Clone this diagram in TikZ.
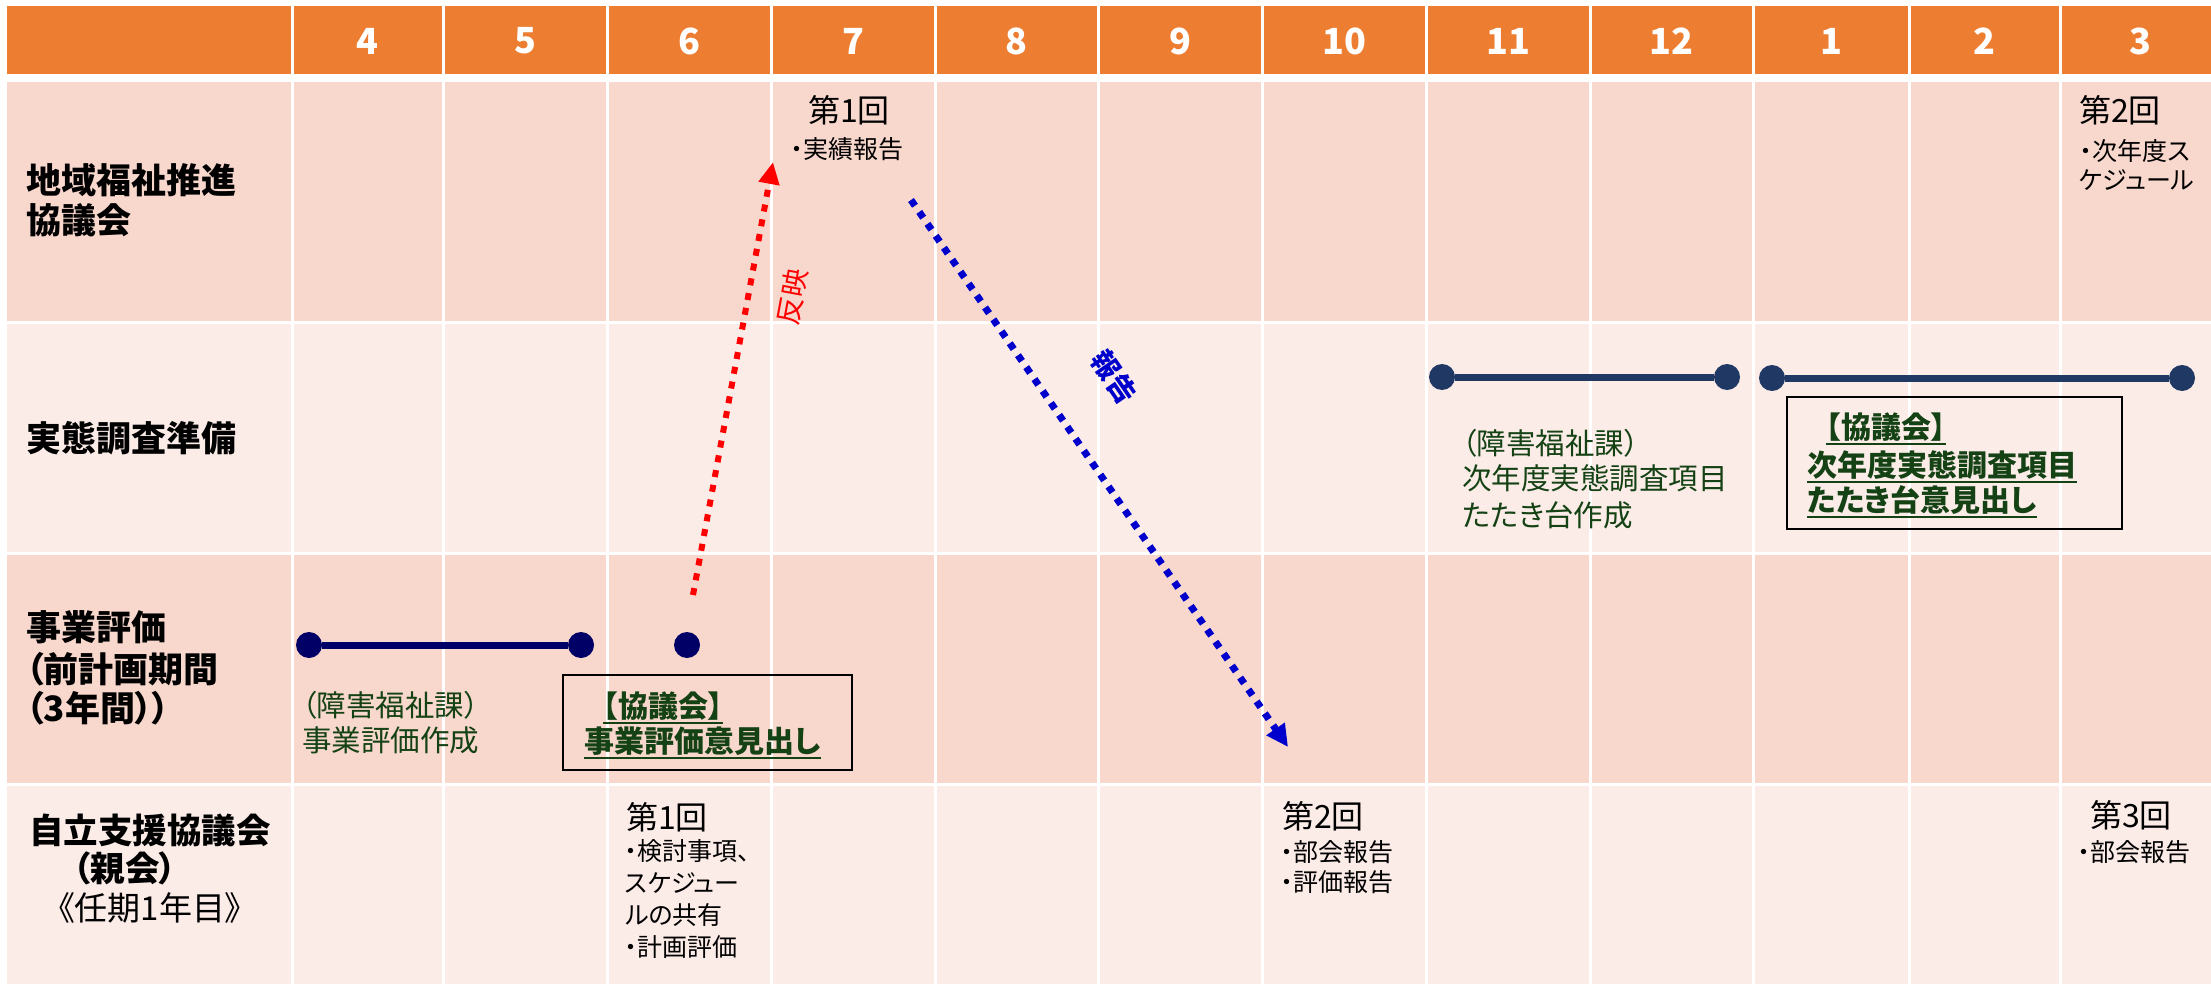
\documentclass[tikz,border=0pt]{standalone}
\usepackage{fontspec}
\setmainfont{Noto Sans CJK JP}[RawFeature=+palt]
\usetikzlibrary{arrows.meta}
\definecolor{hdrorange}{RGB}{237,125,49}
\definecolor{pinkA}{RGB}{248,215,205}
\definecolor{pinkB}{RGB}{251,236,232}
\definecolor{dgreen}{RGB}{20,66,20}
\definecolor{navyA}{RGB}{0,0,102}
\definecolor{navyB}{RGB}{32,56,100}
\definecolor{arrblue}{RGB}{0,0,204}
\begin{document}
\begin{tikzpicture}[x=1pt,y=-1pt,
  hdr/.style={font=\fontsize{36}{40}\selectfont\bfseries, text=white, inner sep=0pt},
  rowlbl/.style={font=\fontsize{35}{40}\selectfont\bfseries, anchor=west, inner sep=0pt},
  rowlblc/.style={font=\fontsize{34.5}{40}\selectfont\bfseries, inner sep=0pt},
  rowlblr/.style={font=\fontsize{33}{40}\selectfont, inner sep=0pt},
  kai/.style={font=\fontsize{32}{38}\selectfont, anchor=west, inner sep=0pt},
  itemtxt/.style={font=\fontsize{25}{30}\selectfont, anchor=west, inner sep=0pt},
  gtxt/.style={font=\fontsize{29.5}{36}\selectfont, text=dgreen, anchor=west, inner sep=0pt},
  gbox/.style={font=\fontsize{30}{36}\selectfont\bfseries, text=dgreen, anchor=west, inner sep=0pt,
    append after command={([yshift=-2.5pt]\tikzlastnode.south west) edge[draw=dgreen, line width=2pt] ([yshift=-2.5pt]\tikzlastnode.south east)}},
  frame/.style={draw=black, line width=2.5pt, inner sep=0pt},
  dotA/.style={circle, fill=navyA, inner sep=0pt, minimum size=26pt},
  dotB/.style={circle, fill=navyB, inner sep=0pt, minimum size=26pt},
  arrlbl/.style={font=\fontsize{28}{32}\selectfont, inner sep=0pt}
]
\useasboundingbox (0,0) rectangle (2211,984);
\fill[white] (0,0) rectangle (2211,984);
% table rows
\fill[hdrorange] (7,6) rectangle (2211,74);
\fill[pinkA] (7,82) rectangle (2211,321);
\fill[pinkB] (7,323.5) rectangle (2211,552);
\fill[pinkA] (7,554.5) rectangle (2211,783);
\fill[pinkB] (7,785.5) rectangle (2211,984);
\foreach \x in {292,443,607,771,935,1098,1262,1426,1590,1753,1909,2060}
  \draw[white, line width=3pt] (\x,0) -- (\x,984);
% header months
\foreach \m/\x in {4/367.5,5/525,6/689,7/853,8/1016.5,9/1180,10/1344,11/1508,12/1671.5,1/1831,2/1984.5,3/2140}
  \node[hdr] (h\m) at (\x,41) {\m};
% row labels
\node[rowlbl] (l1a) at (26,180) {地域福祉推進};
\node[rowlbl] (l1b) at (26,220) {協議会};
\node[rowlbl] (l2a) at (26,438) {実態調査準備};
\node[rowlbl] (l3a) at (26,627) {事業評価};
\node[rowlbl] (l3b) at (26,669) {（前計画期間};
\node[rowlbl] (l3c) at (26,708) {（3年間））};
\node[rowlblc] (l4a) at (150,830) {自立支援協議会};
\node[rowlblc] (l4b) at (125,868) {（親会）};
\node[rowlblr] (l4c) at (150,908) {《任期1年目》};
% row 1 contents
\node[kai] (k1) at (808,110) {第1回};
\node[itemtxt] (k1a) at (791,149) {・実績報告};
\node[kai] (k2) at (2079,110) {第2回};
\node[itemtxt] (k2a) at (2080,151) {・次年度ス};
\node[itemtxt] (k2b) at (2079,180) {ケジュール};
% row 2 contents
\node[dotB] (b1s) at (1442,377) {};
\node[dotB] (b1e) at (1727,377) {};
\draw[navyB, line width=7pt] (b1s) -- (b1e);
\node[dotB] (b2s) at (1772,378) {};
\node[dotB] (b2e) at (2182,378) {};
\draw[navyB, line width=7pt] (b2s) -- (b2e);
\node[gtxt] (g1a) at (1462,443) {（障害福祉課）};
\node[gtxt] (g1b) at (1462,478) {次年度実態調査項目};
\node[gtxt] (g1c) at (1462,515) {たたき台作成};
\node[frame, minimum width=335pt, minimum height=132pt] (box2) at (1954.5,463) {};
\node[gbox] (x2a) at (1826,427) {【協議会】};
\node[gbox] (x2b) at (1807,465) {次年度実態調査項目};
\node[gbox] (x2c) at (1807,500) {たたき台意見出し};
% row 3 contents
\node[dotA] (b3s) at (309,645) {};
\node[dotA] (b3e) at (581,645) {};
\draw[navyA, line width=7pt] (b3s) -- (b3e);
\node[dotA] (b4) at (687,645) {};
\node[gtxt] (g3a) at (302,705) {（障害福祉課）};
\node[gtxt] (g3b) at (302,740) {事業評価作成};
\node[frame, minimum width=289pt, minimum height=95pt] (box1) at (707.5,722.5) {};
\node[gbox] (x1a) at (603,706) {【協議会】};
\node[gbox] (x1b) at (584,741) {事業評価意見出し};
% row 4 contents
\node[kai] (k3) at (626,817) {第1回};
\node[itemtxt] (k3a) at (625,851) {・検討事項、};
\node[itemtxt] (k3b) at (625,883) {スケジュー};
\node[itemtxt] (k3c) at (625,915) {ルの共有};
\node[itemtxt] (k3d) at (625,947) {・計画評価};
\node[kai] (k4) at (1282,816) {第2回};
\node[itemtxt] (k4a) at (1281,852) {・部会報告};
\node[itemtxt] (k4b) at (1281,882) {・評価報告};
\node[kai] (k5) at (2090,815) {第3回};
\node[itemtxt] (k5a) at (2078,852) {・部会報告};
% arrows
\coordinate (rs) at (693,595);
\coordinate (re) at (773,162);
\draw[red, line width=6pt, dash pattern=on 7pt off 8pt, -{Triangle[length=22pt,width=20pt]}] (rs) -- (re);
\node[arrlbl, text=red, rotate=79.5] (lr) at (792,297) {反映};
\coordinate (bs) at (911,200);
\coordinate (be) at (1288,747);
\draw[arrblue, line width=7pt, dash pattern=on 7pt off 7.5pt, -{Triangle[length=22pt,width=21pt]}] (bs) -- (be);
\node[arrlbl, text=arrblue, font=\fontsize{28}{32}\selectfont\bfseries, rotate=-55.4] (lb) at (1114,377) {報告};
\end{tikzpicture}
\end{document}
